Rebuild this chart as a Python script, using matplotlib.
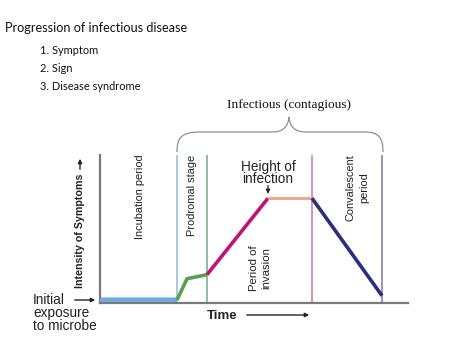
import matplotlib
matplotlib.use("Agg")
import matplotlib.pyplot as plt
from matplotlib.path import Path
from matplotlib.patches import PathPatch

# stage boundaries (time units) and symptom curve
stage_names = ["Incubation period", "Prodromal stage", "Period of\ninvasion", "Convalescent\nperiod"]
stage_x = [77, 107, 212, 282]
stage_colors = ["#9cc6e6", "#88b894", "#c98cc0", "#8c8cb8"]

seg_x = [[0, 77], [77, 87, 107], [107, 168], [168, 212], [212, 282]]
seg_y = [[2.7, 2.7], [2.7, 24, 28], [28, 104.5], [104.5, 104.5], [104.5, 7]]
seg_colors = ["#6fa8dc", "#5a9e50", "#c2127a", "#eda98e", "#2c2f80"]
seg_widths = [3.0, 2.6, 2.6, 2.2, 2.6]

title = "Progression of infectious disease"
items = ["1. Symptom", "2. Sign", "3. Disease syndrome"]

W, H = 474, 355
fig = plt.figure(figsize=(W / 100, H / 100), dpi=100)

# main chart axes, placed in pixel space of the picture
x0, y_bot, x1, y_top = 100, 302.7, 408, 155
ax = fig.add_axes([x0 / W, 1 - y_bot / H, (x1 - x0) / W, (y_bot - y_top) / H])
ax.set_xlim(0, x1 - x0)
ax.set_ylim(0, y_bot - y_top)
for s in ["top", "right"]:
    ax.spines[s].set_visible(False)
for s in ["left", "bottom"]:
    ax.spines[s].set_color("#7a7a7a")
    ax.spines[s].set_linewidth(1.6)
ax.set_xticks([])
ax.set_yticks([])

for x, c in zip(stage_x, stage_colors):
    ax.axvline(x, color=c, lw=1.3, zorder=1)

# light outline for the baseline
ax.plot(seg_x[0], seg_y[0], color="#b9d6f0", lw=4.5, solid_capstyle="butt", zorder=2)
for xs, ys, c, lw in zip(seg_x, seg_y, seg_colors, seg_widths):
    ax.plot(xs, ys, color=c, lw=lw, solid_capstyle="butt", zorder=3)

lab = dict(family="Liberation Sans", color="#222222")
ax.text(40, 148, stage_names[0], rotation=90, ha="center", va="top", fontsize=7.9, **lab)
ax.text(92, 148, stage_names[1], rotation=90, ha="center", va="top", fontsize=7.9, **lab)
ax.text(160, 12, stage_names[2], rotation=90, ha="center", va="bottom", fontsize=8.2,
        linespacing=1.25, multialignment="center", **lab)
ax.text(257, 148, stage_names[3], rotation=90, ha="center", va="top", fontsize=7.9,
        linespacing=1.45, multialignment="center", **lab)
ax.text(168, 130, "Height of\ninfection", ha="center", va="center", fontsize=9.8,
        linespacing=0.85, **lab)
ax.annotate("", xy=(168, 106), xytext=(168, 120),
            arrowprops=dict(arrowstyle="-|>", color="#222222", lw=0.9, mutation_scale=6))

# overlay in pixel coordinates for text and decorations outside the plot
ov = fig.add_axes([0, 0, 1, 1])
ov.set_xlim(0, W)
ov.set_ylim(H, 0)
ov.axis("off")
ov.patch.set_alpha(0)

ov.text(5, 28, title, family="Lato", fontsize=9.1, va="center", color="#111111")
for i, t in enumerate(items):
    ov.text(40, 50 + i * 18.5, t, family="Lato", fontsize=7.9, va="center", color="#111111")

ov.text(289, 105, "Infectious (contagious)", family="Liberation Serif", fontsize=9.6,
        ha="center", va="center", color="#111111")

verts = [(177, 152), (177, 138), (181, 132), (200, 132), (272, 132),
         (283, 132), (288, 127), (289, 117),
         (290, 127), (295, 132), (306, 132), (365, 132),
         (379, 132), (383, 138), (383, 152)]
codes = [Path.MOVETO, Path.CURVE4, Path.CURVE4, Path.CURVE4, Path.LINETO,
         Path.CURVE4, Path.CURVE4, Path.CURVE4,
         Path.CURVE4, Path.CURVE4, Path.CURVE4, Path.LINETO,
         Path.CURVE4, Path.CURVE4, Path.CURVE4]
ov.add_patch(PathPatch(Path(verts, codes), fill=False, edgecolor="#8f8f8f", lw=0.9))

ov.text(80, 288, "Intensity of Symptoms", rotation=90, ha="center", va="bottom",
        family="Liberation Sans", fontweight="bold", fontsize=7.7, color="#222222")
ov.annotate("", xy=(80, 156), xytext=(80, 172),
            arrowprops=dict(arrowstyle="-|>", color="#222222", lw=1.0, mutation_scale=6))

ov.text(33, 313, "Initial\nexposure\nto microbe", ha="left", va="center", family="Liberation Sans",
        fontsize=9.8, linespacing=0.9, color="#222222")
ov.annotate("", xy=(98, 300), xytext=(72, 300),
            arrowprops=dict(arrowstyle="-|>", color="#222222", lw=1.0, mutation_scale=6))

ov.text(207, 316, "Time", ha="left", va="center", family="Liberation Sans",
        fontweight="bold", fontsize=9.5, color="#222222")
ov.annotate("", xy=(312, 315), xytext=(244, 315),
            arrowprops=dict(arrowstyle="-|>", color="#222222", lw=1.0, mutation_scale=6))

fig.savefig("out.png", dpi=100)
